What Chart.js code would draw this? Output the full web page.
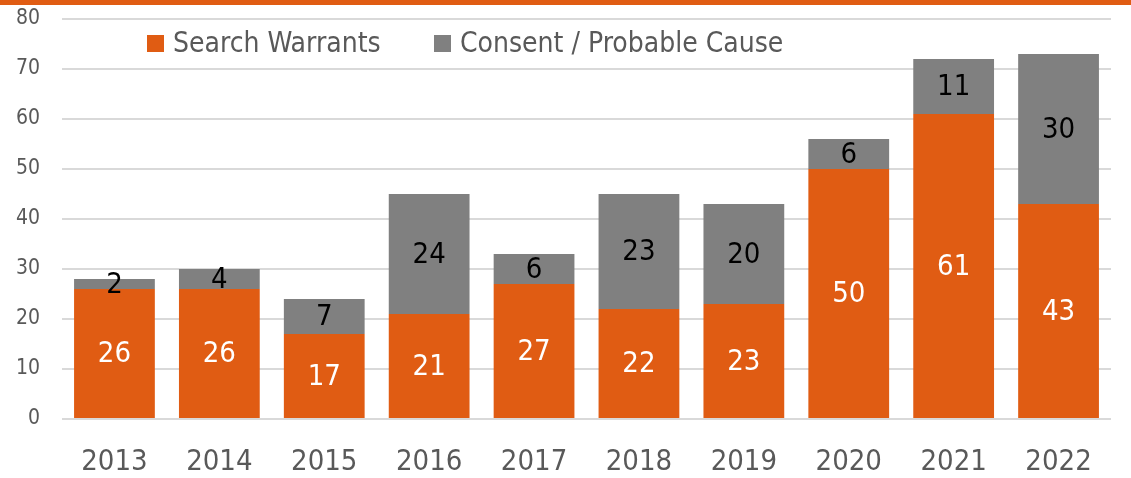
<!DOCTYPE html>
<html>
<head>
<meta charset="utf-8">
<script src="https://cdn.jsdelivr.net/npm/chart.js@4"></script>
<style>
  html, body { margin: 0; padding: 0; background: #fff; }
  #wrap { position: relative; width: 1131px; height: 478px; overflow: hidden; }
  #topBar { position: absolute; left: 0; top: 0; width: 1131px; height: 5px; background: #e05c13; z-index: 2; }
  #chart { position: absolute; left: 0; top: 0; }
</style>
</head>
<body>
<div id="wrap">
  <div id="topBar"></div>
  <canvas id="chart" width="1131" height="478"></canvas>
</div>
<script>
// Chart data
const years = ['2013', '2014', '2015', '2016', '2017', '2018', '2019', '2020', '2021', '2022'];
const searchWarrants = [26, 26, 17, 21, 27, 22, 23, 50, 61, 43];
const consentProbable = [2, 4, 7, 24, 6, 23, 20, 6, 11, 30];
const seriesNames = ['Search Warrants', 'Consent / Probable Cause'];
const yTicks = [0, 10, 20, 30, 40, 50, 60, 70, 80];

const ORANGE = '#e05c13';
const GREY = '#808080';
const TEXT = '#595959';
const FONT = "'DejaVu Sans Condensed', sans-serif";

// labels inside each segment
const segmentLabels = {
    id: 'segmentLabels',
    afterDatasetsDraw(chart) {
        const ctx = chart.ctx;
        ctx.save();
        ctx.font = '29px ' + FONT;
        ctx.textAlign = 'center';
        ctx.textBaseline = 'middle';
        chart.data.datasets.forEach((ds, i) => {
            const meta = chart.getDatasetMeta(i);
            ctx.fillStyle = i === 0 ? '#ffffff' : '#000000';
            meta.data.forEach((bar, j) => {
                const cy = (bar.y + bar.base) / 2;
                ctx.fillText(String(ds.data[j]), bar.x, cy + 1);
            });
        });
        ctx.restore();
    }
};

// legend drawn inside the plot area
const innerLegend = {
    id: 'innerLegend',
    afterDraw(chart) {
        const ctx = chart.ctx;
        const left = chart.chartArea.left;
        const items = [
            { name: seriesNames[0], color: ORANGE, x: left + 85 },
            { name: seriesNames[1], color: GREY, x: left + 372 }
        ];
        ctx.save();
        ctx.font = '28px ' + FONT;
        ctx.textBaseline = 'middle';
        ctx.textAlign = 'left';
        items.forEach(it => {
            ctx.fillStyle = it.color;
            ctx.fillRect(it.x, 35, 17, 17);
            ctx.fillStyle = TEXT;
            ctx.fillText(it.name, it.x + 26, 45);
        });
        ctx.restore();
    }
};

new Chart(document.getElementById('chart'), {
    type: 'bar',
    data: {
        labels: years,
        datasets: [{
            label: seriesNames[0],
            data: searchWarrants,
            backgroundColor: ORANGE,
            barPercentage: 0.77,
            categoryPercentage: 1.0
        }, {
            label: seriesNames[1],
            data: consentProbable,
            backgroundColor: GREY,
            barPercentage: 0.77,
            categoryPercentage: 1.0
        }]
    },
    options: {
        responsive: false,
        animation: false,
        layout: { padding: { top: 19, right: 20, left: 0, bottom: 0 } },
        plugins: {
            legend: { display: false },
            tooltip: { enabled: false }
        },
        scales: {
            x: {
                stacked: true,
                grid: { display: false },
                border: { display: false },
                ticks: { color: TEXT, font: { family: FONT, size: 29 }, padding: 18 },
                afterFit(scale) { scale.height = 59; }
            },
            y: {
                stacked: true,
                min: 0,
                max: 80,
                afterBuildTicks(scale) { scale.ticks = yTicks.map(v => ({ value: v })); },
                grid: { color: '#d9d9d9', lineWidth: 2, drawTicks: false },
                border: { display: false },
                ticks: { color: TEXT, font: { family: FONT, size: 21 }, padding: 22 },
                afterFit(scale) {
                    scale.width = 62;
                    scale.paddingTop = 0;
                    scale.paddingBottom = 0;
                }
            }
        }
    },
    plugins: [segmentLabels, innerLegend]
});
</script>
</body>
</html>
